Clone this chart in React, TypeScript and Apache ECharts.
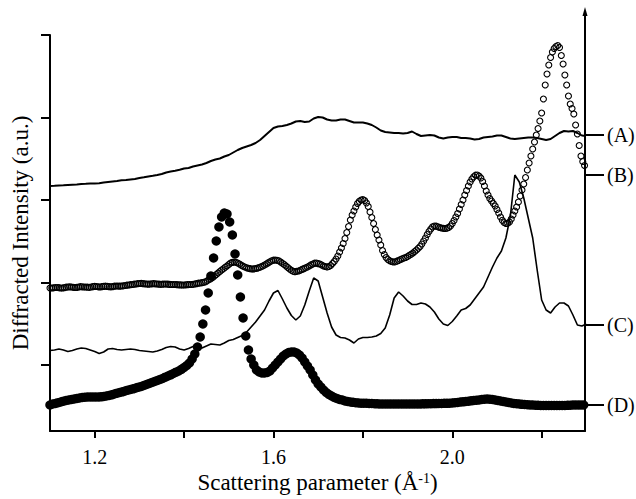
import { useEffect, useRef } from 'react';
import * as echarts from 'echarts';

// Scattering-parameter axis range (Å^-1)
const X_MIN = 1.1;
const X_MAX = 2.297;

// Sampling steps of the four measured curves
const STEP_A = 0.01;
const STEP_B = 0.004;
const STEP_C = 0.01;
const STEP_D = 0.006;

// (A) solid line, offset trace
const seriesA = [
  245, 245.2, 245.5, 245.7, 246, 246.3, 246.5, 247, 247.2, 247.5,
  247.6, 247.8, 248.5, 249, 249.5, 250, 250.7, 251, 251.5, 252,
  253, 253.7, 254.5, 255.2, 256, 257, 258.5, 259.5, 260.2, 261.2,
  262.5, 263, 264.5, 265.5, 266.5, 268, 270, 271.5, 272.5, 274.5,
  276, 278.5, 281, 283, 284.5, 286, 288, 291, 295, 299,
  303, 304.5, 305, 306, 307.5, 309.5, 310, 309, 309.5, 312.5,
  314, 313.5, 311.5, 310.5, 310.5, 311.5, 311.5, 310, 308.5, 308.5,
  308.5, 307.5, 306, 303.5, 300.5, 299, 298.5, 298, 298, 297.5,
  298, 299.5, 297, 295, 295.5, 296, 295.5, 293.5, 292.5, 293.5,
  294, 294, 293, 293, 292.5, 291.5, 292, 293.5, 294, 294.5,
  295.5, 295.5, 294, 292.5, 292, 292.5, 293, 293.5, 293.5, 293,
  292, 291, 292, 295, 298, 300, 299.5, 300, 298, 295.5,
  295,
];

// (B) open circles
const seriesB = [
  143, 143, 143.2, 143.5, 143.5, 143.3, 143, 143, 143.4, 143.8,
  144, 144.2, 144, 143.7, 143.5, 143.6, 144, 144.3, 144.2, 144,
  144, 143.8, 143.7, 144, 144.4, 144.6, 144.5, 144.2, 144, 144.3,
  144.6, 144.8, 144.6, 144.3, 144.2, 144.4, 144.8, 145, 145, 144.8,
  145, 145.2, 145.5, 145.8, 146, 146.3, 146.5, 146.8, 147, 147.3,
  147.5, 147.6, 147.4, 147.2, 147, 146.9, 147, 147.2, 147.3, 147.2,
  147, 146.8, 146.7, 146.8, 147, 147, 146.8, 146.6, 146.5, 146.5,
  146.5, 146.3, 146.2, 146.1, 146, 146, 146.2, 146.4, 146.5, 146.5,
  146.7, 147, 147.4, 147.8, 148, 148.4, 148.7, 149.2, 150.2, 151.5,
  152.2, 153.5, 155, 156.5, 158, 159.5, 161, 162.2, 163.7, 165,
  166.5, 168, 168.6, 169, 168.7, 168, 167, 165.8, 164.8, 164,
  163.2, 162.7, 162.3, 162, 162.1, 162.5, 162.9, 163.5, 164.2, 165,
  166, 167, 168.1, 169.2, 170.2, 170.8, 171, 170.7, 170.2, 169,
  167.8, 166.5, 165, 163.5, 162, 160.7, 159.7, 159.4, 159.7, 160,
  160.7, 161.6, 162.4, 163.2, 164, 165, 166.1, 167, 167.8, 167.9,
  167.4, 167, 166, 165, 164.5, 164, 164.5, 165.5, 167.5, 169.5,
  172, 175, 179, 183, 187.5, 192.5, 198.5, 204.5, 211, 216,
  220, 224, 227.5, 229.7, 231, 231.5, 230.5, 228, 224.5, 219,
  213.5, 207.5, 201.5, 196, 191, 186, 180.5, 176.5, 173.5, 171.5,
  170.3, 169.5, 169, 169.2, 169.8, 170.5, 171.5, 172.2, 173, 173.5,
  174.5, 175.7, 176.7, 178, 179.5, 181, 182.7, 184.5, 187, 190,
  193, 196.5, 199.5, 202, 204.2, 205, 204.8, 204.2, 203.5, 203,
  202.7, 202.5, 202.8, 203.5, 205, 207.5, 210.5, 214, 217.5, 222,
  226.5, 231, 236, 240.5, 245, 249, 252, 254.2, 255.8, 256,
  255, 253, 249.5, 245, 240, 236, 232.5, 230, 227.5, 225,
  221.5, 218, 214, 210.7, 208.5, 207.5, 207.7, 209, 212, 216,
  220, 224, 229, 235, 241, 247, 253.5, 261, 268, 275,
  282, 289, 296, 302.5, 310, 318, 332, 346, 357, 366,
  373.5, 379, 382.5, 384.5, 385.5, 383.5, 375.5, 367, 356, 346,
  335, 327, 322.5, 317, 306, 297, 285.5, 275, 269.5, 265.5,
];

// (C) thin solid line
const seriesC = [
  80.5, 81, 82, 81, 79.5, 80.5, 82, 83, 82.5, 81,
  79.5, 77.5, 79, 82, 82.5, 81.5, 81, 81.5, 82, 81.5,
  80.5, 80, 79.5, 79, 80, 81.5, 83.5, 84.5, 84, 82,
  81, 82.5, 84.5, 84, 83, 85, 87, 86.5, 86, 88,
  90.5, 91.5, 93.5, 95.5, 99, 104, 109, 115, 121, 130,
  138, 140.5, 132, 123, 115.5, 111, 115, 126, 140, 153,
  150, 134, 118, 104, 96, 93.5, 93, 91, 88, 92,
  93.5, 93.5, 94, 95, 97.5, 103, 116, 133, 139, 135,
  130, 126.5, 126.5, 128, 127, 124, 119, 112, 107, 105.5,
  109.5, 115, 121, 122.5, 126, 132, 138, 144, 154, 164,
  173, 180, 193, 215, 256, 249, 233, 213, 193, 161,
  131, 121, 118, 124, 128, 128, 125, 116, 106, 105,
  107,
];

// (D) filled circles
const seriesD = [
  26, 27, 27.5, 28.3, 29, 29.8, 30.5, 31, 31.5, 32,
  32.5, 33, 33.5, 33.8, 34, 34, 34, 34, 34, 34.2,
  34.5, 35, 35.5, 36.2, 37, 37.8, 38.5, 39.2, 40, 40.8,
  41.5, 42.2, 43, 43.8, 44.5, 45.5, 46.5, 47.5, 48.5, 49.5,
  50.5, 51.5, 52.5, 53.8, 55, 56.2, 57.5, 58.8, 60, 61.7,
  63.5, 65.5, 68, 72, 77, 84, 94, 107, 121, 138,
  155, 173, 190, 204, 214, 218, 217, 209, 196, 177,
  156, 134, 113, 95, 81, 72, 66, 61, 59, 58,
  58, 58.5, 60, 63, 66, 69, 72, 75, 77, 78.5,
  79, 79, 78, 76, 73, 69, 65, 61, 56, 51,
  47, 44, 41, 38.5, 36.5, 35, 33.5, 32.5, 31.5, 31,
  30, 29.5, 29, 28.7, 28.3, 28, 27.8, 27.8, 27.8, 27.6,
  27.5, 27.3, 27.2, 27, 27, 27, 27, 27, 27, 27,
  27, 27, 27, 27, 27, 27, 27, 27, 27, 27.2,
  27.2, 27.3, 27.3, 27.4, 27.4, 27.5, 27.6, 27.7, 27.7, 27.8,
  28, 28.3, 28.6, 29, 29.2, 29.5, 29.8, 30.2, 30.5, 30.8,
  31, 31.5, 31.8, 32, 31.8, 31.5, 31, 30.5, 30, 29.5,
  29, 28.5, 28, 27.6, 27.3, 27, 26.7, 26.5, 26.3, 26.1,
  26, 25.8, 25.7, 25.6, 25.5, 25.5, 25.5, 25.5, 25.5, 25.5,
  25.5, 25.5, 25.6, 25.7, 25.8, 26, 26, 26, 26, 26,
];

// Axis ticks and labels
const xTickValues = [1.2, 1.4, 1.6, 1.8, 2.0, 2.2];
const xLabelValues = [1.2, 1.6, 2.0];
const yTickValues = [66, 148.5, 231, 313.5, 396];
const curveLabels = ['(A)', '(B)', '(C)', '(D)'];
const curveLabelLevels = [296, 256, 106, 26];

const Y_MAX = 396;
const FONT = '"Liberation Serif", "Times New Roman", serif';

const toPairs = (values: number[], step: number) =>
  values.map((v, i) => [+(X_MIN + i * step).toFixed(4), v]);

export default function App() {
  const ref = useRef<HTMLDivElement>(null);

  useEffect(() => {
    if (!ref.current) return;
    const chart = echarts.init(ref.current, undefined, { renderer: 'svg' });

    const axisLine = { show: true, onZero: false, lineStyle: { color: '#000', width: 2 } };

    chart.setOption({
      animation: false,
      backgroundColor: '#fff',
      grid: {
        left: 50,
        right: 51,
        top: 35,
        bottom: 68,
        containLabel: false,
        outerBoundsMode: 'none',
      },
      xAxis: {
        type: 'value',
        min: X_MIN,
        max: X_MAX,
        splitLine: { show: false },
        axisLine,
        axisTick: {
          show: true,
          inside: false,
          length: 7,
          customValues: xTickValues,
          lineStyle: { color: '#000', width: 2 },
        },
        axisLabel: {
          customValues: xLabelValues,
          formatter: (v: number) => v.toFixed(1),
          color: '#000',
          fontFamily: FONT,
          fontSize: 20,
          lineHeight: 12,
          margin: 20,
        },
        name: 'Scattering parameter (Å{sup|-1})',
        nameLocation: 'middle',
        nameGap: 41,
        nameMoveOverlap: false,
        nameTextStyle: {
          color: '#000',
          fontFamily: FONT,
          fontSize: 23,
          lineHeight: 20,
          rich: {
            sup: {
              fontFamily: FONT,
              fontSize: 14,
              lineHeight: 12,
              color: '#000',
              padding: [0, 0, 8, 0],
            },
          },
        },
      },
      yAxis: [
        {
          type: 'value',
          min: 0,
          max: Y_MAX,
          position: 'left',
          splitLine: { show: false },
          axisLine,
          axisTick: {
            show: true,
            inside: false,
            length: 9,
            customValues: yTickValues,
            lineStyle: { color: '#000', width: 2 },
          },
          axisLabel: { show: false },
          name: 'Diffracted Intensity (a.u.)',
          nameLocation: 'middle',
          nameGap: 18,
          nameRotate: 90,
          nameTextStyle: { color: '#000', fontFamily: FONT, fontSize: 23 },
        },
        {
          type: 'value',
          min: 0,
          max: Y_MAX,
          position: 'right',
          splitLine: { show: false },
          axisLine,
          axisTick: {
            show: true,
            inside: false,
            length: 19,
            customValues: curveLabelLevels,
            lineStyle: { color: '#000', width: 2 },
          },
          axisLabel: {
            customValues: curveLabelLevels,
            formatter: (v: number) => {
              let best = 0;
              curveLabelLevels.forEach((lv, i) => {
                if (Math.abs(lv - v) < Math.abs(curveLabelLevels[best] - v)) best = i;
              });
              return curveLabels[best];
            },
            color: '#000',
            fontFamily: FONT,
            fontSize: 20,
            margin: 22,
          },
        },
      ],
      graphic: [
        {
          type: 'line',
          shape: { x1: 585, y1: 36, x2: 585, y2: 13 },
          style: { stroke: '#000', lineWidth: 2 },
          silent: true,
        },
        {
          type: 'polygon',
          shape: { points: [[585, 7], [582.5, 16], [587.5, 16]] },
          style: { fill: '#000' },
          silent: true,
        },
      ],
      series: [
        {
          name: '(A)',
          type: 'line',
          data: toPairs(seriesA, STEP_A),
          showSymbol: false,
          lineStyle: { color: '#000', width: 2 },
          clip: true,
          silent: true,
        },
        {
          name: '(B)',
          type: 'scatter',
          data: toPairs(seriesB, STEP_B),
          symbol: 'circle',
          symbolSize: 6,
          itemStyle: {
            color: 'rgba(0,0,0,0)',
            borderColor: '#000',
            borderWidth: 1.1,
            opacity: 1,
          },
          silent: true,
        },
        {
          name: '(C)',
          type: 'line',
          data: toPairs(seriesC, STEP_C),
          showSymbol: false,
          lineStyle: { color: '#000', width: 1.6 },
          clip: true,
          silent: true,
        },
        {
          name: '(D)',
          type: 'scatter',
          data: toPairs(seriesD, STEP_D),
          symbol: 'circle',
          symbolSize: 9.5,
          itemStyle: { color: '#000', opacity: 1 },
          silent: true,
        },
      ],
    });

    return () => chart.dispose();
  }, []);

  return (
    <div
      ref={ref}
      style={{ position: 'fixed', left: 0, top: 0, width: 636, height: 499, background: '#fff' }}
    />
  );
}
